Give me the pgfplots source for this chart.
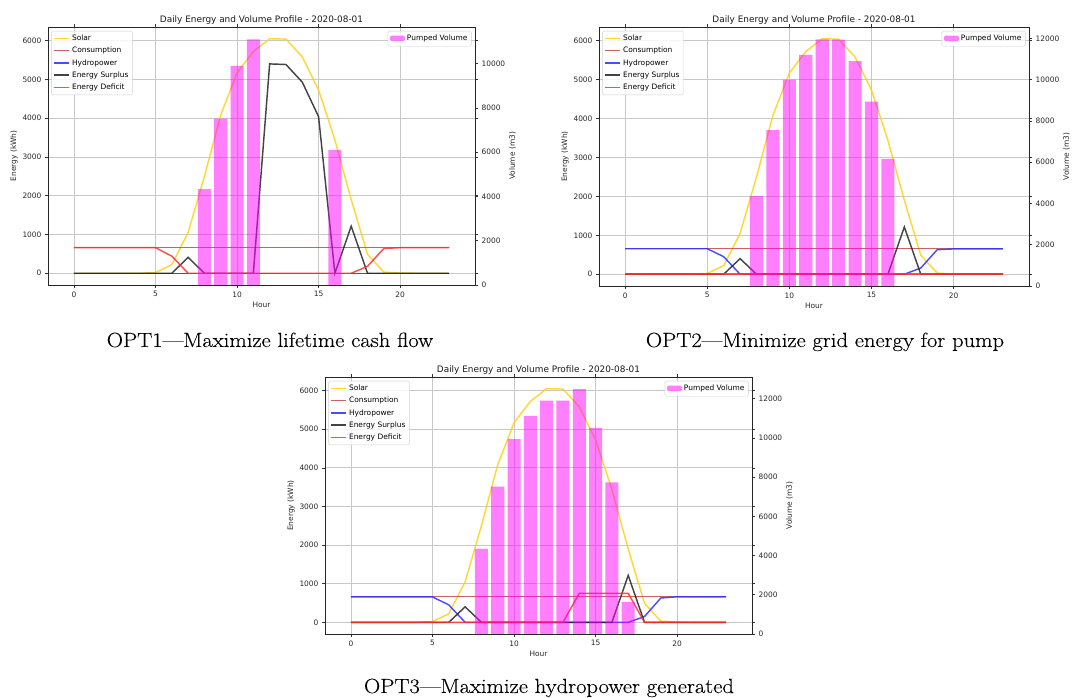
\documentclass[border=0pt]{standalone}
\usepackage{fontspec}
\usepackage{pgfplots}
\pgfplotsset{compat=1.18}
\usepackage{pgfplotstable}
\newfontfamily\mpl{DejaVu Sans}
\newfontfamily\capfont[Ligatures=TeX, FakeStretch=1.1, FakeBold=0.2]{Latin Modern Roman}

\definecolor{csolar}{RGB}{255,208,20}
\definecolor{ccons}{RGB}{192,72,72}
\definecolor{chydro}{RGB}{45,45,255}
\definecolor{csurp}{RGB}{35,35,35}
\definecolor{cdef}{RGB}{255,45,45}
\definecolor{cgrid}{RGB}{200,200,200}
\definecolor{cvol}{RGB}{255,0,255}

% hourly energy profiles (kWh): OPT1, OPT2, OPT3
\pgfplotstableread{
h solar cons hydro surplus deficit
0  0    660 0 0    660
1  0    660 0 0    660
2  0    660 0 0    660
3  0    660 0 0    660
4  0    660 0 0    660
5  20   660 0 0    660
6  220  660 0 0    440
7  1050 660 0 410  0
8  2500 660 0 0    0
9  4080 660 0 0    0
10 5170 660 0 0    0
11 5720 660 0 0    0
12 6050 660 0 5400 0
13 6040 660 0 5385 0
14 5580 660 0 4930 0
15 4730 660 0 4040 0
16 3440 660 0 0    0
17 1900 660 0 1215 0
18 490  660 0 0    180
19 30   660 0 0    640
20 5    660 0 0    660
21 0    660 0 0    660
22 0    660 0 0    660
23 0    660 0 0    660
}\enerA
\pgfplotstableread{
h solar cons hydro surplus deficit
0  0    660 655 0    0
1  0    660 655 0    0
2  0    660 655 0    0
3  0    660 655 0    0
4  0    660 655 0    0
5  20   660 655 0    0
6  220  660 450 0    0
7  1050 660 0   400  0
8  2500 660 0   0    0
9  4080 660 0   0    0
10 5170 660 0   0    0
11 5720 660 0   0    0
12 6050 660 0   0    0
13 6040 660 0   0    0
14 5580 660 0   0    0
15 4730 660 0   0    0
16 3440 660 0   0    0
17 1900 660 0   1215 0
18 490  660 160 0    0
19 30   660 630 0    0
20 5    660 650 0    0
21 0    660 650 0    0
22 0    660 650 0    0
23 0    660 650 0    0
}\enerB
\pgfplotstableread{
h solar cons hydro surplus deficit
0  0    660 660 0    0
1  0    660 660 0    0
2  0    660 660 0    0
3  0    660 660 0    0
4  0    660 660 0    0
5  20   660 660 0    0
6  220  660 450 0    0
7  1050 660 0   400  0
8  2500 660 0   0    0
9  4080 660 0   0    0
10 5170 660 0   0    0
11 5720 660 0   0    0
12 6050 660 0   0    0
13 6040 660 0   0    0
14 5580 660 0   0    750
15 4730 660 0   0    750
16 3440 660 0   0    750
17 1900 660 0   1215 750
18 490  660 150 0    0
19 30   660 630 0    0
20 5    660 660 0    0
21 0    660 660 0    0
22 0    660 660 0    0
23 0    660 660 0    0
}\enerC

% pumped volume per hour (m3), nonzero hours only
\pgfplotstableread{
h v
8  4330
9  7520
10 9900
11 11100
16 6100
}\volA
\pgfplotstableread{
h v
8  4350
9  7550
10 10000
11 11200
12 11950
13 11940
14 10890
15 8930
16 6160
}\volB
\pgfplotstableread{
h v
8  4340
9  7510
10 9930
11 11120
12 11900
13 11900
14 12480
15 10510
16 7730
17 1630
}\volC

\newcommand{\mplfont}{\mpl\fontsize{7.45}{8.5}\selectfont}

\pgfplotsset{
  common/.style={
    scale only axis, anchor=south west,
    xmin=-1.59, xmax=24.59,
    tick align=outside, major tick length=3pt,
    tick style={black!80, line width=0.6pt},
    axis line style={black!85, line width=0.8pt},
    scaled ticks=false,
    /pgf/number format/assume math mode=true,
    /pgf/number format/.cd, fixed, set thousands separator={}, /pgfplots/.cd,
    tick label style={font=\mplfont, text=black!85},
    label style={font=\mplfont, text=black!85},
    legend cell align=left,
    legend style={font=\mplfont, draw=black!18, rounded corners=1.5pt,
      fill=white, fill opacity=0.8, text opacity=1,
      inner xsep=2pt, inner ysep=2pt,
      /tikz/every even column/.append style={column sep=2pt},
      row sep=1pt},
  },
  left/.style={common,
    ymin=-302.5, ymax=6352.5,
    xtick={0,5,10,15,20}, ytick={0,1000,...,6000},
    grid=major, major grid style={cgrid, line width=0.7pt},
    xlabel={Hour}, ylabel={Energy (kWh)},
    title={Daily Energy and Volume Profile - 2020-08-01},
    title style={font=\mpl\fontsize{8.9}{10}\selectfont, text=black!90, yshift=-6.5pt},
    xlabel style={yshift=2pt},
    ylabel style={yshift=-2pt},
    legend style={at={(0.008,0.985)}, anchor=north west},
  },
  right/.style={common,
    axis x line=none, axis y line*=right,
    ymin=0, ylabel={Volume (m3)},
    ylabel style={yshift=3pt},
    legend style={at={(0.992,0.985)}, anchor=north east},
  },
  linelegend/.style={legend image code/.code={\draw[#1] (0pt,0pt) -- (15pt,0pt);}},
  barlegend/.style={legend image code/.code={\fill[#1] (0pt,-2.5pt) rectangle (15pt,3pt);}},
  eline/.style={line width=1.45pt, opacity=0.85},
}

% #1,#2 lower-left corner; #3,#4 size; #5 energy table; #6 volume table;
% #7 upper limit of the volume axis; #8 volume ticks
\newcommand{\profile}[8]{%
  \begin{axis}[left, linelegend, at={(#1,#2)}, width=#3, height=#4]
    \addplot[eline, csolar] table[x=h, y=solar] {#5};
    \addlegendentry{Solar}
    \addplot[eline, ccons, line width=1.25pt] table[x=h, y=cons] {#5};
    \addlegendentry{Consumption}
    \addplot[eline, chydro] table[x=h, y=hydro] {#5};
    \addlegendentry{Hydropower}
    \addplot[eline, csurp] table[x=h, y=surplus] {#5};
    \addlegendentry{Energy Surplus}
    \addplot[eline, cdef] table[x=h, y=deficit] {#5};
    \addlegendentry{Energy Deficit}
  \end{axis}
  \begin{axis}[right, barlegend, at={(#1,#2)}, width=#3, height=#4, ymax=#7, ytick={#8}]
    \addplot[ybar, bar width=0.8, bar shift=0pt, draw=none,
             fill=cvol, fill opacity=0.5] table[x=h, y=v] {#6};
    \addlegendentry{Pumped Volume}
  \end{axis}%
}

\begin{document}
\begin{tikzpicture}
  \useasboundingbox (0pt,0pt) rectangle (1084pt,698pt);
  \profile{48pt}{413pt}{427pt}{258pt}{\enerA}{\volA}{11655}{0,2000,...,10000}
  \profile{599pt}{412pt}{430pt}{259pt}{\enerB}{\volB}{12548}{0,2000,...,12000}
  \profile{325pt}{64pt}{427pt}{257pt}{\enerC}{\volC}{13104}{0,2000,...,12000}
  \node[anchor=base, font=\capfont\fontsize{20.5}{24}\selectfont] at (270pt,351pt)
    {OPT1---Maximize lifetime cash flow};
  \node[anchor=base, font=\capfont\fontsize{20.5}{24}\selectfont] at (825pt,351pt)
    {OPT2---Minimize grid energy for pump};
  \node[anchor=base, font=\capfont\fontsize{20.5}{24}\selectfont] at (549pt,5pt)
    {OPT3---Maximize hydropower generated};
\end{tikzpicture}
\end{document}
